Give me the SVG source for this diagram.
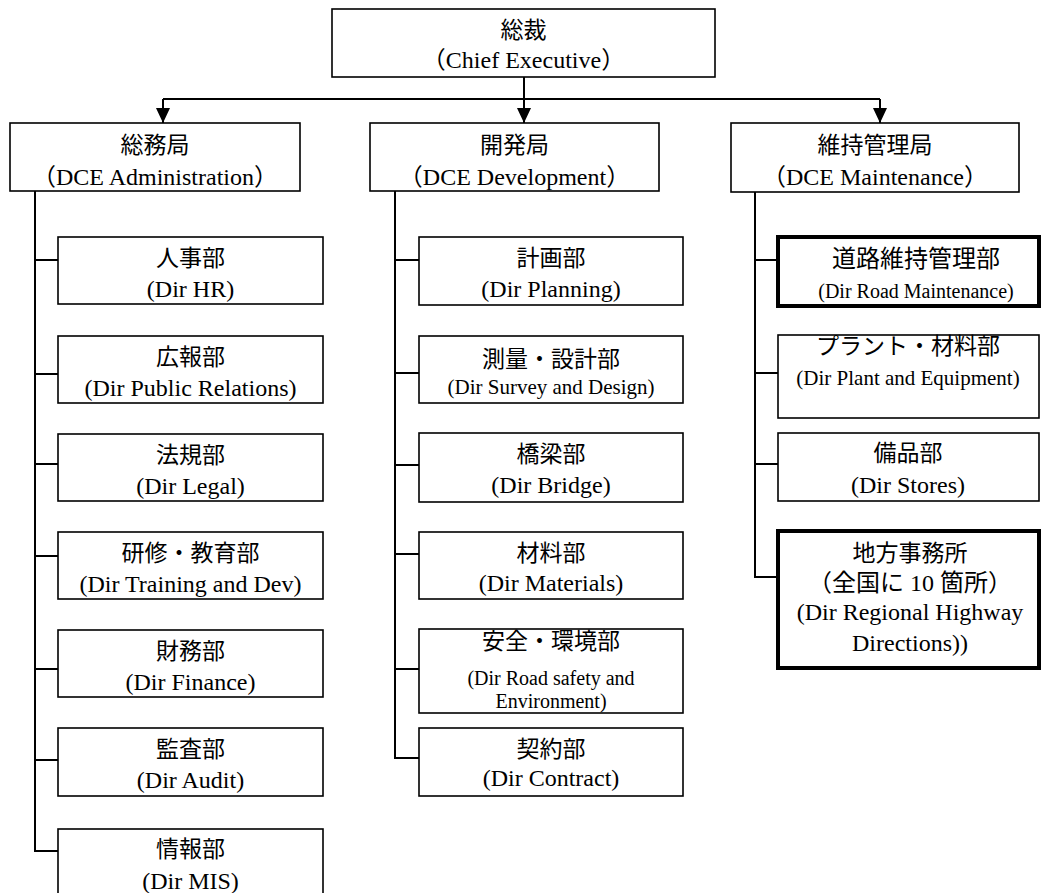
<svg xmlns="http://www.w3.org/2000/svg" width="1041" height="893" viewBox="0 0 1041 893">
<style>
.box{fill:#fff;stroke:#000;stroke-width:1.6}
.thick{stroke-width:4}
.t{font-family:"Liberation Serif","Noto Sans CJK JP",serif;font-size:24px;text-anchor:middle;fill:#000}
.j{font-size:23px}
.s{font-size:21px}
.xs{font-size:20px}
.conn{fill:none;stroke:#000;stroke-width:2}
</style>
<defs>
<marker id="arr" markerUnits="userSpaceOnUse" markerWidth="16" markerHeight="16" viewBox="0 0 16 16" refX="15" refY="8" orient="auto">
<path d="M0,1 L15,8 L0,15 Z" fill="#000"/>
</marker>
</defs>
<rect width="1041" height="893" fill="#fff"/>
<g id="connectors">
<path class="conn" d="M524,77 V123" marker-end="url(#arr)"/>
<path class="conn" d="M163,99 H880"/>
<path class="conn" d="M163,99 V123" marker-end="url(#arr)"/>
<path class="conn" d="M880,99 V123" marker-end="url(#arr)"/>
<path class="conn" d="M35,191 V851 H58 M35,260 H58 M35,374 H58 M35,464 H58 M35,556 H58 M35,669 H58 M35,760 H58"/>
<path class="conn" d="M395,191 V758 H419 M395,260 H419 M395,373 H419 M395,465 H419 M395,554 H419 M395,669 H419"/>
<path class="conn" d="M755,192 V577 H778 M755,260 H778 M755,373 H778 M755,464 H778"/>
</g>
<g id="ceo"><rect class="box" x="332" y="9" width="383" height="68"/><text class="t j" x="523.5" y="38">総裁</text><text class="t" x="523.5" y="68">（Chief Executive）</text></g>
<g id="dce-admin"><rect class="box" x="10" y="123" width="290" height="68"/><text class="t j" x="155" y="153">総務局</text><text class="t" x="155" y="185">（DCE Administration）</text></g>
<g id="dce-dev"><rect class="box" x="370" y="123" width="289" height="68"/><text class="t j" x="514.5" y="153">開発局</text><text class="t" x="514.5" y="185">（DCE Development）</text></g>
<g id="dce-maint"><rect class="box" x="731" y="123" width="288" height="69"/><text class="t j" x="875" y="153">維持管理局</text><text class="t" x="875" y="185">（DCE Maintenance）</text></g>

<g id="hr"><rect class="box" x="58" y="237" width="265" height="67"/><text class="t j" x="190.5" y="266">人事部</text><text class="t" x="190.5" y="297">(Dir HR)</text></g>
<g id="pr"><rect class="box" x="58" y="336" width="265" height="67"/><text class="t j" x="190.5" y="365">広報部</text><text class="t" x="190.5" y="396">(Dir Public Relations)</text></g>
<g id="legal"><rect class="box" x="58" y="434" width="265" height="67"/><text class="t j" x="190.5" y="463">法規部</text><text class="t" x="190.5" y="494">(Dir Legal)</text></g>
<g id="training"><rect class="box" x="58" y="532" width="265" height="67"/><text class="t j" x="190.5" y="561">研修・教育部</text><text class="t" x="190.5" y="592">(Dir Training and Dev)</text></g>
<g id="finance"><rect class="box" x="58" y="630" width="265" height="67"/><text class="t j" x="190.5" y="659">財務部</text><text class="t" x="190.5" y="690">(Dir Finance)</text></g>
<g id="audit"><rect class="box" x="58" y="728" width="265" height="68"/><text class="t j" x="190.5" y="757">監査部</text><text class="t" x="190.5" y="788">(Dir Audit)</text></g>
<g id="mis"><rect class="box" x="58" y="829" width="265" height="67"/><text class="t j" x="190.5" y="857">情報部</text><text class="t" x="190.5" y="889">(Dir MIS)</text></g>

<g id="planning"><rect class="box" x="419" y="237" width="264" height="68"/><text class="t j" x="551" y="266">計画部</text><text class="t" x="551" y="297">(Dir Planning)</text></g>
<g id="survey"><rect class="box" x="419" y="336" width="264" height="67"/><text class="t j" x="551" y="367">測量・設計部</text><text class="t s" x="551" y="394">(Dir Survey and Design)</text></g>
<g id="bridge"><rect class="box" x="419" y="433" width="264" height="69"/><text class="t j" x="551" y="462">橋梁部</text><text class="t" x="551" y="493">(Dir Bridge)</text></g>
<g id="materials"><rect class="box" x="419" y="532" width="264" height="67"/><text class="t j" x="551" y="561">材料部</text><text class="t" x="551" y="591">(Dir Materials)</text></g>
<g id="safety"><rect class="box" x="419" y="629" width="264" height="84"/><text class="t j" x="551" y="649">安全・環境部</text><text class="t xs" x="551" y="685">(Dir Road safety and</text><text class="t xs" x="551" y="708">Environment)</text></g>
<g id="contract"><rect class="box" x="419" y="728" width="264" height="68"/><text class="t j" x="551" y="757">契約部</text><text class="t" x="551" y="786">(Dir Contract)</text></g>

<g id="road"><rect class="box thick" x="778" y="237" width="261" height="69"/><text class="t" x="916" y="267">道路維持管理部</text><text class="t xs" x="916" y="298">(Dir Road Maintenance)</text></g>
<g id="plant"><rect class="box" x="778" y="335" width="261" height="83"/><text class="t j" x="908" y="354">プラント・材料部</text><text class="t s" x="908" y="385">(Dir Plant and Equipment)</text></g>
<g id="stores"><rect class="box" x="778" y="433" width="261" height="68"/><text class="t j" x="908" y="461">備品部</text><text class="t" x="908" y="493">(Dir Stores)</text></g>
<g id="regional"><rect class="box thick" x="778" y="531" width="261" height="137"/><text class="t j" x="910" y="561">地方事務所</text><text class="t" x="910" y="591">（全国に 10 箇所）</text><text class="t" x="910" y="620">(Dir Regional Highway</text><text class="t" x="910" y="651">Directions))</text></g>
</svg>
